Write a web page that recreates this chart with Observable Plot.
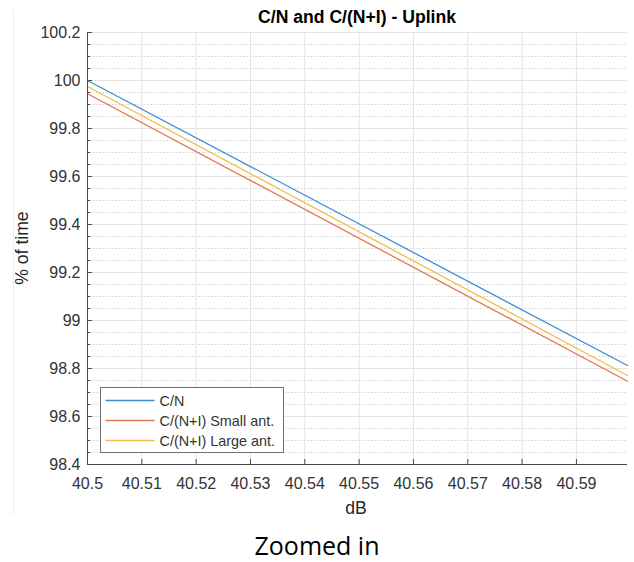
<!DOCTYPE html>
<html>
<head>
<meta charset="utf-8">
<script src="https://cdn.jsdelivr.net/npm/d3@7"></script>
<script src="https://cdn.jsdelivr.net/npm/@observablehq/plot@0.6"></script>
<style>
  body { margin: 0; background: #fff; width: 634px; height: 562px; position: relative; overflow: hidden;
         font-family: "Liberation Sans", Arial, sans-serif; }
  #edge { position: absolute; left: 13px; top: 10px; height: 505px; border-left: 1px solid #eeeeee; }
  #chart { position: absolute; left: 0; top: 0; }
  #title { position: absolute; left: 87px; width: 540px; top: 7px; text-align: center;
           font-weight: bold; font-size: 17.6px; line-height: 20px; color: #000; }
  .axlabel { position: absolute; font-size: 17.6px; line-height: 20px; color: #262626; white-space: nowrap; }
  #xlabel { left: 306px; width: 100px; top: 498px; text-align: center; }
  #ylabel { left: 22px; top: 248px; transform: translate(-50%, -50%) rotate(-90deg); }
  #caption { position: absolute; left: 0; width: 634px; top: 528px; text-align: center;
             font-family: "Open Sans", sans-serif; font-size: 25px; line-height: 34px; color: #000; }
</style>
</head>
<body>
<div id="edge"></div>
<div id="chart"></div>
<div id="title">C/N and C/(N+I) - Uplink</div>
<div class="axlabel" id="ylabel">% of time</div>
<div class="axlabel" id="xlabel">dB</div>
<div id="caption">Zoomed in</div>
<script>
// Carrier level (dB) at the two ends of the zoomed window
const dB = [40.5, 40.5994];

// Percentage of time for each curve at those carrier levels
const cn = [100.0, 98.8125];
const cniSmall = [99.945, 98.747];
const cniLarge = [99.975, 98.771];

const seriesNames = ["C/N", "C/(N+I) Small ant.", "C/(N+I) Large ant."];
const seriesColors = ["#3a8fd2", "#e2774f", "#f0be4c"];

const xTicks = [40.5, 40.51, 40.52, 40.53, 40.54, 40.55, 40.56, 40.57, 40.58, 40.59];
const yTicks = [98.4, 98.6, 98.8, 99, 99.2, 99.4, 99.6, 99.8, 100, 100.2];
const yMinorTicks = [98.45, 98.5, 98.55, 98.65, 98.7, 98.75, 98.85, 98.9, 98.95,
                     99.05, 99.1, 99.15, 99.25, 99.3, 99.35, 99.45, 99.5, 99.55,
                     99.65, 99.7, 99.75, 99.85, 99.9, 99.95, 100.05, 100.1, 100.15];

// Long table for the line marks
const seriesValues = [cn, cniSmall, cniLarge];
const rows = seriesNames.flatMap((name, s) =>
  dB.map((x, i) => ({dB: x, pct: seriesValues[s][i], series: name})));

const fmt = d => String(+d.toFixed(2));
const axisColor = "#4a4a4a";

const chart = Plot.plot({
  width: 634,
  height: 522,
  marginLeft: 87,
  marginRight: 7,
  marginTop: 32,
  marginBottom: 58,
  style: {fontFamily: "'Liberation Sans', Arial, sans-serif", color: "#333"},
  x: {domain: [40.5, 40.5994], label: null},
  y: {domain: [98.4, 100.2], label: null},
  color: {domain: seriesNames, range: seriesColors},
  marks: [
    // minor (dotted) and major grid
    Plot.gridY(yMinorTicks, {stroke: "#c4c4c4", strokeOpacity: 1, strokeDasharray: "1.2,2"}),
    Plot.gridY(yTicks, {stroke: "#e4e4e4", strokeOpacity: 1}),
    Plot.gridX(xTicks, {stroke: "#e4e4e4", strokeOpacity: 1}),
    // curves
    Plot.line(rows, {x: "dB", y: "pct", z: "series", stroke: "series", strokeWidth: 1.3}),
    // axes with inward ticks
    Plot.axisY(yMinorTicks, {tickSize: -3, tickFormat: () => "", stroke: axisColor}),
    Plot.axisY(yTicks, {tickSize: -5, tickPadding: 12, tickFormat: fmt, fontSize: 16,
                        fill: "#333", stroke: axisColor, label: null}),
    Plot.axisX(xTicks, {tickSize: -5, tickPadding: 18, tickFormat: fmt, fontSize: 16,
                        fill: "#333", stroke: axisColor, label: null}),
    Plot.ruleX([40.5], {stroke: axisColor}),
    Plot.ruleY([98.4], {stroke: axisColor})
  ]
});
document.getElementById("chart").append(chart);

// Legend box in the lower-left corner of the axes
const svg = d3.select(chart);
const lg = svg.append("g").attr("transform", "translate(100.5,387.5)");
lg.append("rect").attr("width", 183).attr("height", 65)
  .attr("fill", "#fff").attr("stroke", "#707070").attr("stroke-width", 1);
seriesNames.forEach((name, i) => {
  const y = 13 + i * 20;
  lg.append("line").attr("x1", 5).attr("x2", 54).attr("y1", y).attr("y2", y)
    .attr("stroke", seriesColors[i]).attr("stroke-width", 1.3);
  lg.append("text").attr("x", 59).attr("y", y).attr("dy", "0.35em")
    .attr("text-anchor", "start").attr("font-size", 14.4).attr("fill", "#333").text(name);
});
</script>
</body>
</html>
